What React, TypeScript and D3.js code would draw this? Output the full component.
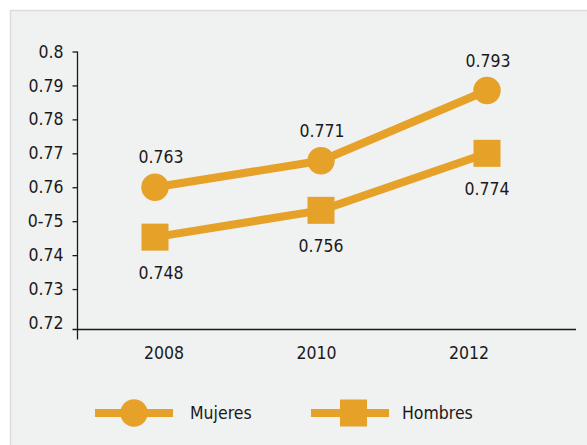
import React, { useEffect, useRef } from 'react';
import * as d3 from 'd3';

const years = ['2008', '2010', '2012'];
const yTicks = [0.72, 0.73, 0.74, 0.75, 0.76, 0.77, 0.78, 0.79, 0.8];
const yTickLabels = ['0.72', '0.73', '0.74', '0-75', '0.76', '0.77', '0.78', '0.79', '0.8'];
const mujeres = [0.76, 0.7678, 0.7885];
const mujeresLabels = ['0.763', '0.771', '0.793'];
const hombres = [0.7453, 0.7532, 0.77];
const hombresLabels = ['0.748', '0.756', '0.774'];

const ORANGE = '#e6a128';
const FONT = '"DejaVu Sans Condensed", "DejaVu Sans", sans-serif';
const FS = '17.5px';
const INK = '#1a1a1a';

export default function App() {
  const svgRef = useRef<SVGSVGElement>(null);

  useEffect(() => {
    if (!svgRef.current) return;
    const svg = d3.select(svgRef.current);
    svg.selectAll('*').remove();

    // panel
    svg.append('rect')
      .attr('x', 10.5).attr('y', 10.5)
      .attr('width', 600).attr('height', 460)
      .attr('fill', '#f0f1f1')
      .attr('stroke', '#dcdddd')
      .attr('stroke-width', 1.5);

    const y = d3.scaleLinear().domain([0.72, 0.8]).range([323, 51.5]);
    const xLabel = d3.scalePoint<string>().domain(years).range([164, 469]);
    const xPt = d3.scalePoint<string>().domain(years).range([155, 487]);
    const axisX = 77.5;
    const baseY = 329.5;

    // y axis
    const yAxis = svg.append('g')
      .attr('transform', `translate(${axisX},0)`)
      .call(
        d3.axisLeft(y)
          .tickValues(yTicks)
          .tickSize(5)
          .tickPadding(9)
          .tickFormat((_d, i) => yTickLabels[i])
      );
    yAxis.select('.domain').remove();
    yAxis.selectAll<SVGLineElement, number>('line')
      .attr('stroke', INK).attr('stroke-width', 1.3)
      .attr('opacity', d => (d === 0.72 ? 0 : 1));
    yAxis.selectAll('text')
      .attr('fill', INK)
      .style('font-family', FONT)
      .style('font-size', FS);

    svg.append('line')
      .attr('x1', axisX).attr('x2', axisX)
      .attr('y1', y(0.8)).attr('y2', baseY + 10)
      .attr('stroke', INK).attr('stroke-width', 1.3);

    // x axis
    svg.append('line')
      .attr('x1', axisX - 5).attr('x2', 576)
      .attr('y1', baseY).attr('y2', baseY)
      .attr('stroke', INK).attr('stroke-width', 1.3);

    svg.selectAll('.xlab')
      .data(years)
      .enter()
      .append('text')
      .attr('x', d => xLabel(d) || 0)
      .attr('y', 353)
      .attr('dy', '0.35em')
      .attr('text-anchor', 'middle')
      .attr('fill', INK)
      .style('font-family', FONT)
      .style('font-size', FS)
      .text(d => d);

    const line = d3.line<number>()
      .x((_d, i) => xPt(years[i]) || 0)
      .y(d => y(d));

    // Mujeres
    svg.append('path')
      .datum(mujeres)
      .attr('fill', 'none')
      .attr('stroke', ORANGE)
      .attr('stroke-width', 8)
      .attr('d', line);
    svg.selectAll('.mdot')
      .data(mujeres)
      .enter()
      .append('circle')
      .attr('cx', (_d, i) => xPt(years[i]) || 0)
      .attr('cy', d => y(d))
      .attr('r', 13.7)
      .attr('fill', ORANGE);
    svg.selectAll('.mlab')
      .data(mujeres)
      .enter()
      .append('text')
      .attr('x', (_d, i) => (xPt(years[i]) || 0) + (i === 0 ? 6 : 1))
      .attr('y', d => y(d) - 30)
      .attr('dy', '0.35em')
      .attr('text-anchor', 'middle')
      .attr('fill', INK)
      .style('font-family', FONT)
      .style('font-size', FS)
      .text((_d, i) => mujeresLabels[i]);

    // Hombres
    svg.append('path')
      .datum(hombres)
      .attr('fill', 'none')
      .attr('stroke', ORANGE)
      .attr('stroke-width', 8)
      .attr('d', line);
    svg.selectAll('.hsq')
      .data(hombres)
      .enter()
      .append('rect')
      .attr('x', (_d, i) => (xPt(years[i]) || 0) - 13.5)
      .attr('y', d => y(d) - 13.5)
      .attr('width', 27)
      .attr('height', 27)
      .attr('fill', ORANGE);
    svg.selectAll('.hlab')
      .data(hombres)
      .enter()
      .append('text')
      .attr('x', (_d, i) => (xPt(years[i]) || 0) + (i === 0 ? 6 : 0))
      .attr('y', d => y(d) + 36)
      .attr('dy', '0.35em')
      .attr('text-anchor', 'middle')
      .attr('fill', INK)
      .style('font-family', FONT)
      .style('font-size', FS)
      .text((_d, i) => hombresLabels[i]);

    // legend
    const ly = 413;
    const leg1 = svg.append('g');
    leg1.append('line')
      .attr('x1', 95).attr('x2', 173).attr('y1', ly).attr('y2', ly)
      .attr('stroke', ORANGE).attr('stroke-width', 8);
    leg1.append('circle')
      .attr('cx', 134).attr('cy', ly).attr('r', 13.7).attr('fill', ORANGE);
    leg1.append('text')
      .attr('x', 190).attr('y', ly).attr('dy', '0.35em')
      .attr('fill', INK)
      .style('font-family', FONT)
      .style('font-size', FS)
      .text('Mujeres');

    const leg2 = svg.append('g');
    leg2.append('line')
      .attr('x1', 311).attr('x2', 389).attr('y1', ly).attr('y2', ly)
      .attr('stroke', ORANGE).attr('stroke-width', 8);
    leg2.append('rect')
      .attr('x', 340).attr('y', ly - 13.5).attr('width', 27).attr('height', 27)
      .attr('fill', ORANGE);
    leg2.append('text')
      .attr('x', 402).attr('y', ly).attr('dy', '0.35em')
      .attr('fill', INK)
      .style('font-family', FONT)
      .style('font-size', FS)
      .text('Hombres');
  }, []);

  return (
    <svg
      ref={svgRef}
      width={587}
      height={445}
      style={{ position: 'absolute', left: 0, top: 0, background: '#fff' }}
    />
  );
}
